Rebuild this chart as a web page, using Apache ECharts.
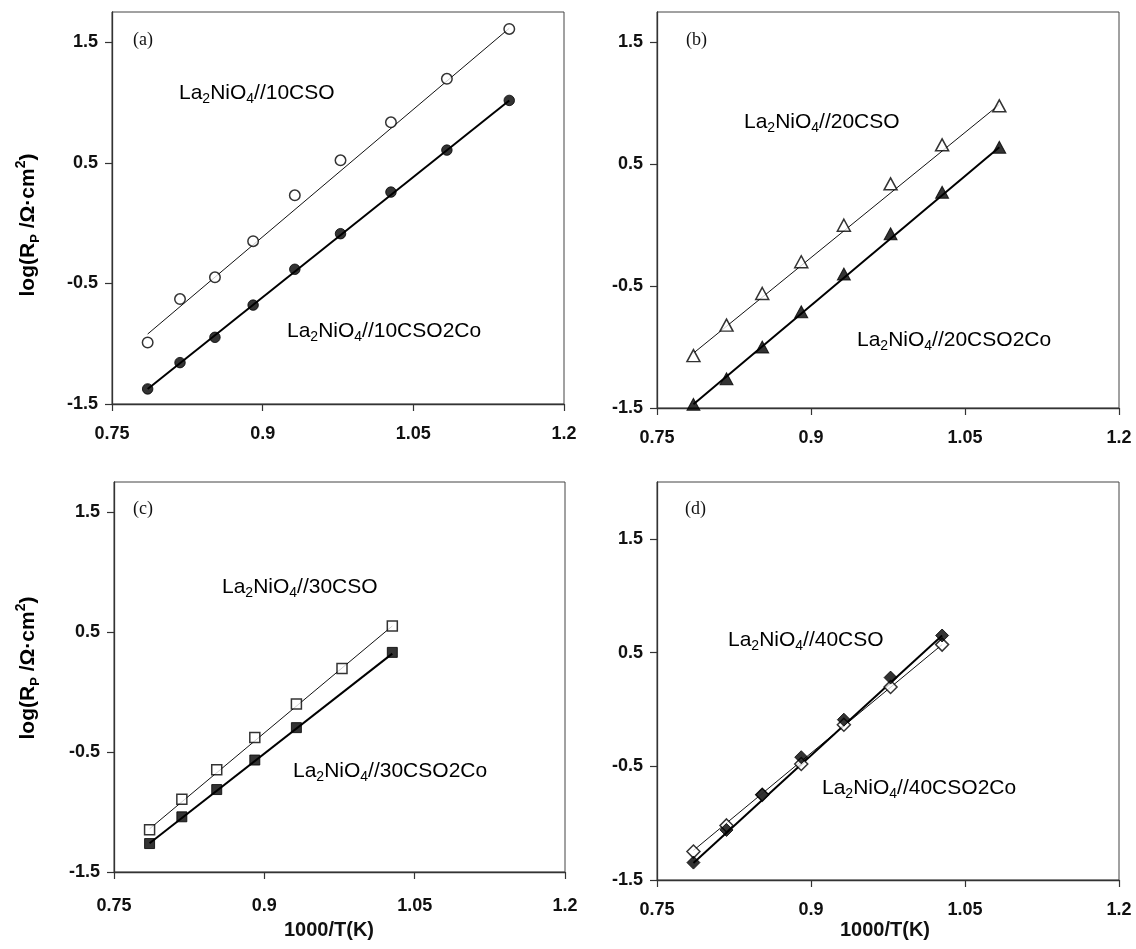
<!DOCTYPE html>
<html>
<head>
<meta charset="utf-8">
<title>Polarization resistance vs 1000/T</title>
<script src="https://cdn.jsdelivr.net/npm/echarts@6/dist/echarts.min.js"></script>
<style>
  html, body { margin: 0; padding: 0; background: #fff; }
  #main { width: 1136px; height: 949px; }
</style>
</head>
<body>
<div id="main"></div>
<script>
// 1000/T(K) for 1000, 950, ... 600 °C
const invT = [0.7855, 0.8177, 0.8525, 0.8905, 0.9320, 0.9775, 1.0277, 1.0834, 1.1455];

const xTicks = [0.75, 0.9, 1.05, 1.2];
const yTicks = [-1.5, -0.5, 0.5, 1.5];

// log(Rp / Ω·cm²) per cell
const rp10CSO    = [-0.99, -0.63, -0.45, -0.15, 0.23, 0.52, 0.835, 1.196, 1.61];
const rp10CSO2Co = [-1.375, -1.157, -0.947, -0.68, -0.383, -0.088, 0.257, 0.605, 1.017];
const rp20CSO    = [-1.07, -0.82, -0.56, -0.30, 0.0, 0.34, 0.66, 0.98];
const rp20CSO2Co = [-1.47, -1.26, -1.00, -0.71, -0.40, -0.07, 0.27, 0.64];
const rp30CSO    = [-1.147, -0.894, -0.647, -0.38, -0.10, 0.195, 0.55];
const rp30CSO2Co = [-1.263, -1.04, -0.813, -0.567, -0.297, null, 0.33];
const rp40CSO    = [-1.25, -1.02, -0.75, -0.48, -0.135, 0.197, 0.57];
const rp40CSO2Co = [-1.347, -1.06, -0.75, -0.42, -0.09, 0.28, 0.65];

// Arrhenius fit lines: log(Rp) at the first and last temperature
const fit10CSO    = [-0.92, 1.615];
const fit10CSO2Co = [-1.375, 1.017];
const fit20CSO    = [-1.05, 0.99];
const fit20CSO2Co = [-1.47, 0.64];
const fit30CSO    = [-1.14, 0.55];
const fit30CSO2Co = [-1.26, 0.32];
const fit40CSO    = [-1.24, 0.57];
const fit40CSO2Co = [-1.35, 0.65];

const panels = [
  { tag: '(a)', cso: '10CSO', open: rp10CSO, filled: rp10CSO2Co, fitOpen: fit10CSO, fitFilled: fit10CSO2Co,
    symbol: 'circle', size: 10.5, yMax: 1.75,
    grid: { left: 112, top: 12, width: 452, height: 392 },
    tagPos: [133, 40], openPos: [179, 93], filledPos: [287, 331] },
  { tag: '(b)', cso: '20CSO', open: rp20CSO, filled: rp20CSO2Co, fitOpen: fit20CSO, fitFilled: fit20CSO2Co,
    symbol: 'triangle', size: [13, 12], yMax: 1.75,
    grid: { left: 657, top: 12, width: 462, height: 396 },
    tagPos: [686, 40], openPos: [744, 122], filledPos: [857, 340] },
  { tag: '(c)', cso: '30CSO', open: rp30CSO, filled: rp30CSO2Co, fitOpen: fit30CSO, fitFilled: fit30CSO2Co,
    symbol: 'rect', size: 10, yMax: 1.75,
    grid: { left: 114, top: 482, width: 451, height: 390 },
    tagPos: [133, 509], openPos: [222, 587], filledPos: [293, 771] },
  { tag: '(d)', cso: '40CSO', open: rp40CSO, filled: rp40CSO2Co, fitOpen: fit40CSO, fitFilled: fit40CSO2Co,
    symbol: 'diamond', size: 13, yMax: 2.0,
    grid: { left: 657, top: 482, width: 462, height: 398 },
    tagPos: [685, 509], openPos: [728, 640], filledPos: [822, 788] }
];

const tickFont = { fontFamily: 'Liberation Sans, Arial, sans-serif', fontWeight: 'bold', fontSize: 18, color: '#111' };
const axisColor = '#333';

function pairs(vals) {
  const out = [];
  vals.forEach((v, i) => { if (v !== null) out.push([invT[i], v]); });
  return out;
}
function fitPairs(ends, n) {
  return [[invT[0], ends[0]], [invT[n - 1], ends[1]]];
}

const labelRich = {
  n: { fontFamily: 'Liberation Sans, Arial, sans-serif', fontSize: 21, lineHeight: 26, verticalAlign: 'middle', color: '#111' },
  s: { fontFamily: 'Liberation Sans, Arial, sans-serif', fontSize: 14, lineHeight: 14, verticalAlign: 'bottom', color: '#111' }
};
function cellLabel(name) {
  return '{n|La}{s|2}{n|NiO}{s|4}{n|//' + name + '}';
}

const grids = [], xAxes = [], yAxes = [], series = [], graphics = [];

panels.forEach((p, k) => {
  grids.push(Object.assign({ show: true, borderColor: '#444', borderWidth: 1, backgroundColor: '#fff' }, p.grid));
  xAxes.push({
    type: 'value', gridIndex: k, min: 0.75, max: 1.2, interval: 0.15,
    axisLine: { show: true, onZero: false, lineStyle: { color: axisColor, width: 1.3 } },
    axisTick: { show: true, inside: false, length: 7, lineStyle: { color: axisColor, width: 1.2 }, customValues: xTicks },
    axisLabel: Object.assign({ margin: k === 2 ? 25 : 21, customValues: xTicks }, tickFont),
    splitLine: { show: false }
  });
  yAxes.push({
    type: 'value', gridIndex: k, min: -1.5, max: p.yMax, interval: 1,
    axisLine: { show: true, onZero: false, lineStyle: { color: axisColor, width: 1.3 } },
    axisTick: { show: true, inside: false, length: 7, lineStyle: { color: axisColor, width: 1.2 }, customValues: yTicks },
    axisLabel: Object.assign({ margin: 14, customValues: yTicks }, tickFont),
    splitLine: { show: false }
  });

  const n = p.open.length;
  series.push({
    type: 'line', xAxisIndex: k, yAxisIndex: k, data: fitPairs(p.fitOpen, n),
    symbol: 'none', lineStyle: { color: '#111', width: 1 }, z: 2, silent: true, animation: false
  });
  series.push({
    type: 'line', xAxisIndex: k, yAxisIndex: k, data: fitPairs(p.fitFilled, n),
    symbol: 'none', lineStyle: { color: '#000', width: 2 }, z: 2, silent: true, animation: false
  });
  series.push({
    name: 'La2NiO4//' + p.cso, type: 'scatter', xAxisIndex: k, yAxisIndex: k, data: pairs(p.open),
    symbol: p.symbol, symbolSize: p.size,
    itemStyle: { color: '#fff', borderColor: '#000', borderWidth: 1.5 }, z: 3, animation: false
  });
  series.push({
    name: 'La2NiO4//' + p.cso + '2Co', type: 'scatter', xAxisIndex: k, yAxisIndex: k, data: pairs(p.filled),
    symbol: p.symbol, symbolSize: p.size,
    itemStyle: { color: '#000', borderColor: '#000', borderWidth: 1 }, z: 4, animation: false
  });

  graphics.push({
    type: 'text', x: p.tagPos[0], y: p.tagPos[1], z: 10,
    style: { text: p.tag, fontFamily: 'Liberation Serif, Times New Roman, serif', fontSize: 18, fill: '#111', align: 'left', verticalAlign: 'middle' }
  });
  graphics.push({
    type: 'text', x: p.openPos[0], y: p.openPos[1], z: 10,
    style: { text: cellLabel(p.cso), rich: labelRich, align: 'left', verticalAlign: 'middle' }
  });
  graphics.push({
    type: 'text', x: p.filledPos[0], y: p.filledPos[1], z: 10,
    style: { text: cellLabel(p.cso + '2Co'), rich: labelRich, align: 'left', verticalAlign: 'middle' }
  });
});

// axis titles
const titleRich = {
  b: { fontFamily: 'Liberation Sans, Arial, sans-serif', fontWeight: 'bold', fontSize: 21, lineHeight: 27, verticalAlign: 'middle', color: '#111' },
  bs: { fontFamily: 'Liberation Sans, Arial, sans-serif', fontWeight: 'bold', fontSize: 13, lineHeight: 13, verticalAlign: 'bottom', color: '#111' },
  bp: { fontFamily: 'Liberation Sans, Arial, sans-serif', fontWeight: 'bold', fontSize: 14, lineHeight: 14, verticalAlign: 'top', color: '#111' }
};
const yTitle = '{b|log(R}{bs|P}{b| /Ω·cm}{bp|2}{b|)}';
[[28, 225], [28, 668]].forEach(pos => {
  graphics.push({
    type: 'text', x: pos[0], y: pos[1], rotation: Math.PI / 2, z: 10,
    style: { text: yTitle, rich: titleRich, align: 'center', verticalAlign: 'middle' }
  });
});
[[329, 930], [885, 930]].forEach(pos => {
  graphics.push({
    type: 'text', x: pos[0], y: pos[1], z: 10,
    style: { text: '1000/T(K)', fontFamily: 'Liberation Sans, Arial, sans-serif', fontWeight: 'bold', fontSize: 20, fill: '#111', align: 'center', verticalAlign: 'middle' }
  });
});

const chart = echarts.init(document.getElementById('main'), null, { renderer: 'canvas' });
chart.setOption({
  backgroundColor: '#fff',
  animation: false,
  grid: grids,
  xAxis: xAxes,
  yAxis: yAxes,
  series: series,
  graphic: graphics
});
</script>
</body>
</html>
